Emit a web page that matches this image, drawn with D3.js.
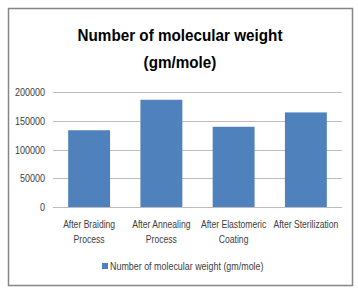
<!DOCTYPE html>
<html>
<head>
<meta charset="utf-8">
<script src="https://cdn.jsdelivr.net/npm/d3@7"></script>
<style>
  body { margin: 0; background: #fff; }
  text { font-family: "Liberation Sans", Arial, sans-serif; }
</style>
</head>
<body>
<div id="chart"></div>
<script>
// data
const categories = [["After Braiding", "Process"], ["After Annealing", "Process"], ["After Elastomeric", "Coating"], ["After Sterilization"]];
const values = [133500, 186500, 139500, 164500];
const yTicks = [0, 50000, 100000, 150000, 200000];
const seriesName = "Number of molecular weight (gm/mole)";
const titleLines = ["Number of molecular weight", "(gm/mole)"];

const W = 358, H = 291;
const margin = {top: 92, right: 16, bottom: 84, left: 53};
const width = 342 - margin.left;
const height = 207 - margin.top;

// the original uses a narrow font, so squeeze the wider one horizontally
function squeeze(sel, k) {
  sel.each(function() {
    const w = this.getComputedTextLength();
    d3.select(this).attr("textLength", w * k).attr("lengthAdjust", "spacingAndGlyphs");
  });
}

const svg = d3.select("#chart")
  .append("svg")
  .attr("width", W)
  .attr("height", H);

// outer frame
svg.append("rect")
  .attr("x", 8.5).attr("y", 8.5)
  .attr("width", 344).attr("height", 277)
  .attr("fill", "none")
  .attr("stroke", "#868686")
  .attr("stroke-width", 1.5);

// title
const title = svg.append("g").selectAll("text")
  .data(titleLines)
  .join("text")
  .attr("x", 180)
  .attr("y", (d, i) => 41 + i * 27)
  .attr("text-anchor", "middle")
  .style("font-size", "17px")
  .style("font-weight", "bold")
  .style("fill", "#000")
  .text(d => d);
const titleK = 205 / title.node().getComputedTextLength();
squeeze(title, titleK);

const g = svg.append("g")
  .attr("transform", `translate(${margin.left}, ${margin.top})`);

const x = d3.scaleBand()
  .domain(d3.range(categories.length))
  .range([0, width])
  .paddingInner(0.42)
  .paddingOuter(0.21);

const y = d3.scaleLinear()
  .domain([0, 200000])
  .range([height, 0]);

// gridlines
g.append("g")
  .selectAll("line")
  .data(yTicks)
  .join("line")
  .attr("x1", 0).attr("x2", width)
  .attr("y1", d => Math.round(y(d)) + 0.5)
  .attr("y2", d => Math.round(y(d)) + 0.5)
  .attr("stroke", "#bdbdbd");

// y axis labels
const yAxis = g.append("g")
  .call(d3.axisLeft(y).tickValues(yTicks).tickSize(0).tickPadding(8).tickFormat(d => d));
yAxis.select(".domain").remove();
yAxis.attr("font-family", null);
yAxis.selectAll("text")
  .style("font-size", "11px")
  .style("fill", "#404040");
squeeze(yAxis.selectAll("text"), 0.82);

// bars
g.selectAll("rect.bar")
  .data(values)
  .join("rect")
  .attr("class", "bar")
  .attr("x", (d, i) => x(i))
  .attr("y", d => y(d))
  .attr("width", x.bandwidth())
  .attr("height", d => height - y(d))
  .attr("fill", "#4f81bd");

// category labels, one text per line
const labelLines = categories.flatMap((lines, i) => lines.map((t, j) => ({i, j, t})));
const labels = g.append("g")
  .selectAll("text")
  .data(labelLines)
  .join("text")
  .attr("x", d => x(d.i) + x.bandwidth() / 2)
  .attr("y", d => height + 21 + d.j * 15)
  .attr("text-anchor", "middle")
  .style("font-size", "11px")
  .style("fill", "#404040")
  .text(d => d.t);
squeeze(labels, 0.78);

// legend
const legend = svg.append("g").attr("transform", "translate(102, 263)");
legend.append("rect")
  .attr("width", 6).attr("height", 6)
  .attr("fill", "#4f81bd");
const legendText = legend.append("text")
  .attr("x", 8).attr("y", 7)
  .style("font-size", "11px")
  .style("fill", "#404040")
  .text(seriesName);
squeeze(legendText, 0.81);
</script>
</body>
</html>
